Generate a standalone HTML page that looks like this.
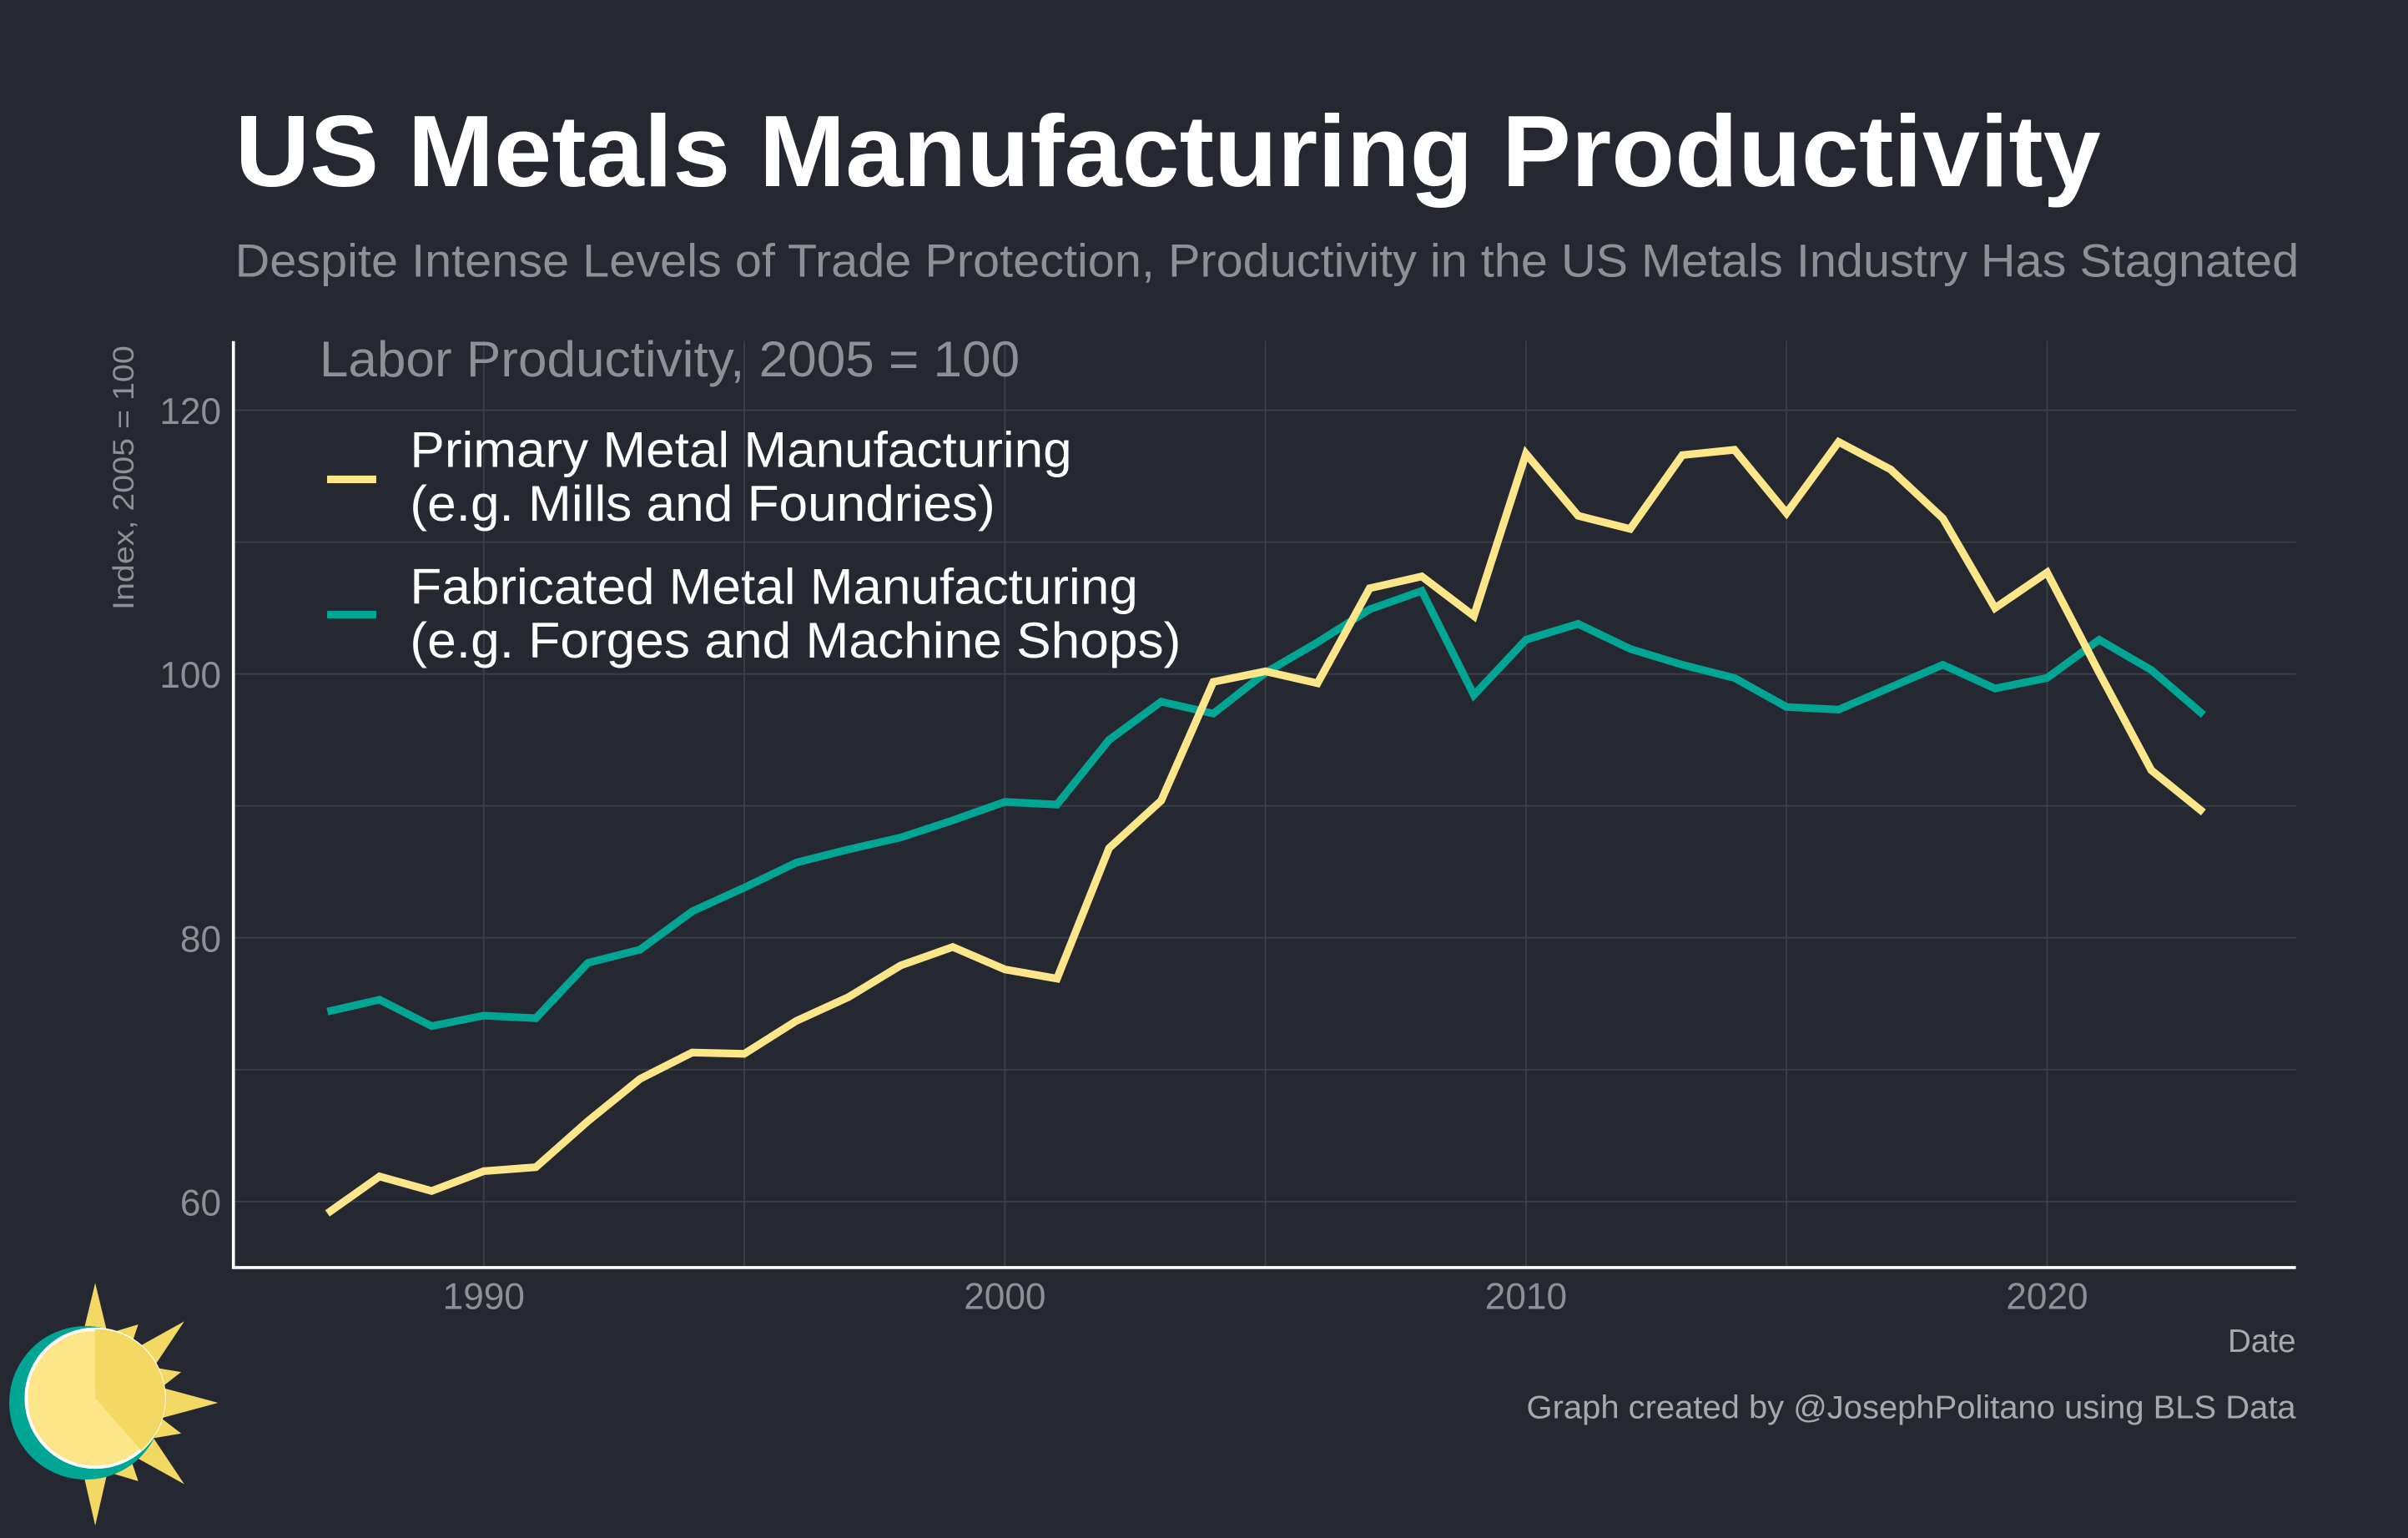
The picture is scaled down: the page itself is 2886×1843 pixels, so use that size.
<!DOCTYPE html>
<html><head><meta charset="utf-8"><style>
html,body{margin:0;padding:0;background:#252830;}
svg{display:block;}
text{font-family:"Liberation Sans",Arial,sans-serif;}
</style></head><body>
<svg id="chart" width="2886" height="1843" viewBox="0 0 1568 1001" preserveAspectRatio="none">
<rect x="0" y="0" width="1568" height="1001" fill="#252830"/>
<text x="153" y="121" font-size="66" font-weight="bold" fill="#ffffff" textLength="1215" lengthAdjust="spacingAndGlyphs">US Metals Manufacturing Productivity</text>
<text x="153" y="180" font-size="30" fill="#8e9097" textLength="1344" lengthAdjust="spacingAndGlyphs">Despite Intense Levels of Trade Protection, Productivity in the US Metals Industry Has Stagnated</text>
<g id="grid"></g>
<g id="ticks"></g>
<g id="series"></g>
<line x1="152" y1="222" x2="152" y2="825" stroke="#ffffff" stroke-width="2"/>
<line x1="151" y1="825" x2="1495" y2="825" stroke="#ffffff" stroke-width="2"/>
<text transform="translate(87,311) rotate(-90)" text-anchor="middle" font-size="19" fill="#8e9097" textLength="172" lengthAdjust="spacingAndGlyphs">Index, 2005 = 100</text>
<text x="1495" y="880" text-anchor="end" font-size="21" fill="#a8a9ad">Date</text>
<text x="1495" y="923" text-anchor="end" font-size="21" fill="#a8a9ad" textLength="501" lengthAdjust="spacingAndGlyphs">Graph created by @JosephPolitano using BLS Data</text>
<g>
<text x="208" y="245" font-size="33" fill="#8e9097" textLength="456" lengthAdjust="spacingAndGlyphs">Labor Productivity, 2005 = 100</text>
<line x1="213" y1="312" x2="245" y2="312" stroke="#fde68a" stroke-width="5"/>
<text x="267" y="304" font-size="33" fill="#ffffff"><tspan textLength="431" lengthAdjust="spacingAndGlyphs">Primary Metal Manufacturing</tspan><tspan x="267" dy="35" textLength="381" lengthAdjust="spacingAndGlyphs">(e.g. Mills and Foundries)</tspan></text>
<line x1="213" y1="400" x2="245" y2="400" stroke="#00a693" stroke-width="5"/>
<text x="267" y="393" font-size="33" fill="#ffffff"><tspan textLength="474" lengthAdjust="spacingAndGlyphs">Fabricated Metal Manufacturing</tspan><tspan x="267" dy="35" textLength="502" lengthAdjust="spacingAndGlyphs">(e.g. Forges and Machine Shops)</tspan></text>
</g>
<g>
<polygon points="62,835 70,868 90,862 84,880 120,860 100,890 118,893 105,903 142,913 105,923 118,933 100,936 120,966 84,946 90,964 70,958 62,993 54,958 40,960 50,930 40,900 54,868" fill="#f3d964"/>
<circle cx="56" cy="913" r="50" fill="#00a693"/>
<circle cx="62" cy="910" r="45" fill="#fde68a" stroke="#fff" stroke-width="2"/>
<path d="M62,910 L62,865 A45,45 0 0 1 92,944 Z" fill="#f3d964"/>
</g>
</svg>
<script>
const years = [];
for (let y = 1987; y <= 2023; y++) years.push(y);
const primary = [59.1,61.9,60.8,62.3,62.6,66.1,69.3,71.3,71.2,73.7,75.5,77.9,79.3,77.6,76.9,86.8,90.4,99.4,100.2,99.3,106.5,107.4,104.4,116.7,112.0,111.0,116.6,117.0,112.2,117.6,115.5,111.8,105.0,107.7,100.1,92.7,89.5];
const fabricated = [74.4,75.3,73.3,74.1,73.9,78.1,79.1,82.0,83.8,85.7,86.7,87.6,88.9,90.3,90.1,95.0,97.9,97.0,100.1,102.4,104.9,106.3,98.4,102.6,103.8,101.9,100.7,99.7,97.5,97.3,99.0,100.7,98.9,99.7,102.6,100.3,96.9];
const yTicks = [60,80,100,120];
const yGrid = [60,70,80,90,100,110,120];
const xTicks = [1990,2000,2010,2020];
const xGrid = [1990,1995,2000,2005,2010,2015,2020];

const NS = "http://www.w3.org/2000/svg";
function xs(yr){ return 315 + (yr - 1990) * (1333 - 315) / 30; }
function ys(v){ return 782 - (v - 60) * (782 - 267) / 60; }
function mk(tag, attrs, parent){
  const el = document.createElementNS(NS, tag);
  for (const k in attrs) el.setAttribute(k, attrs[k]);
  parent.appendChild(el);
  return el;
}
const grid = document.getElementById('grid');
const ticks = document.getElementById('ticks');
const series = document.getElementById('series');
yGrid.forEach(v => {
  const l = mk('line', {x1:152, x2:1495, y1:ys(v), y2:ys(v), stroke:'#3b3f48', 'stroke-width':1}, grid);
  
  
});
xGrid.forEach(v => {
  const l = mk('line', {x1:xs(v), x2:xs(v), y1:222, y2:825, stroke:'#3b3f48', 'stroke-width':1}, grid);
  
  
});
yTicks.forEach(v => {
  const t = mk('text', {x:144, y:ys(v)+9, 'text-anchor':'end', 'font-size':24, fill:'#8e9097'}, ticks);
  t.textContent = v;
  
  
});
xTicks.forEach(v => {
  const t = mk('text', {x:xs(v), y:852, 'text-anchor':'middle', 'font-size':24, fill:'#8e9097'}, ticks);
  t.textContent = v;
  
  
});
function line(vals, color, name){
  const d = vals.map((v,i) => (i ? 'L' : 'M') + xs(years[i]).toFixed(2) + ',' + ys(v).toFixed(2)).join(' ');
  const p = mk('path', {d:d, fill:'none', stroke:color, 'stroke-width':5, 'stroke-linejoin':'miter'}, series);
  
  
}
line(fabricated, '#00a693', 'fabricated-metal-line');
line(primary, '#fde68a', 'primary-metal-line');
</script>
</body></html>
